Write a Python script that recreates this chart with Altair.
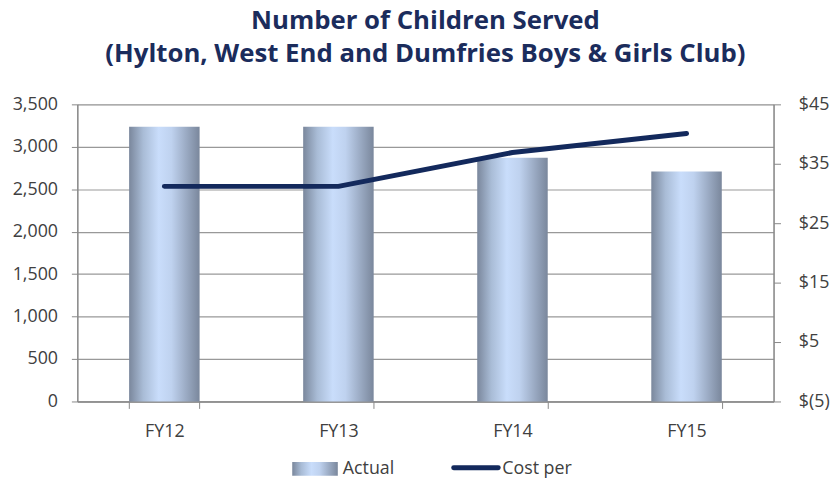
import altair as alt
import pandas as pd

years = ["FY12", "FY13", "FY14", "FY15"]
actual = [3235, 3235, 2872, 2709]
cost_per = [31.2, 31.2, 36.9, 40.1]
legend_labels = ["Actual", "Cost per"]

df = pd.DataFrame({"year": years, "actual": actual, "cost": cost_per})

FONT = "Open Sans"
GRAY_TXT = "#404040"
NAVY = "#13295c"

grad = alt.Gradient(
    gradient="linear",
    stops=[
        alt.GradientStop(color="#7a879c", offset=0),
        alt.GradientStop(color="#a9bcd6", offset=0.2),
        alt.GradientStop(color="#c9ddfb", offset=0.42),
        alt.GradientStop(color="#bfd2ef", offset=0.6),
        alt.GradientStop(color="#7a879c", offset=1),
    ],
    x1=0, x2=1, y1=0, y2=0,
)

xenc = alt.X(
    "year:N",
    sort=years,
    scale=alt.Scale(paddingInner=0.595, paddingOuter=0.2975),
    axis=alt.Axis(
        title=None, labelAngle=0, tickBand="extent", tickSize=7,
        tickColor="#888888", domainColor="#888888", domainWidth=1.5,
        labelPadding=14, labelFontSize=18, labelFont=FONT, labelColor=GRAY_TXT,
        grid=False,
    ),
)

base = alt.Chart(df)

bars = base.mark_bar(color=grad).encode(
    x=xenc,
    y=alt.Y(
        "actual:Q",
        scale=alt.Scale(domain=[0, 3500], nice=False),
        axis=alt.Axis(
            title=None, values=list(range(0, 3501, 500)), format=",d",
            grid=True, gridColor="#999999", gridWidth=1.2,
            tickSize=6, tickColor="#888888", domainColor="#888888", domainWidth=1.5,
            labelPadding=14, labelFontSize=18, labelFont=FONT, labelColor=GRAY_TXT,
        ),
    ),
)

line = base.mark_line(color=NAVY, strokeWidth=5, strokeCap="round", strokeJoin="round").encode(
    x=alt.X("year:N", sort=years),
    y=alt.Y(
        "cost:Q",
        scale=alt.Scale(domain=[-5, 45], nice=False),
        axis=alt.Axis(
            title=None, orient="right", values=[-5, 5, 15, 25, 35, 45],
            labelExpr="datum.value < 0 ? '$(' + abs(datum.value) + ')' : '$' + datum.value",
            grid=False, tickSize=7, tickColor="#888888", domainColor="#888888", domainWidth=1.5,
            labelPadding=18, labelFontSize=18, labelFont=FONT, labelColor=GRAY_TXT,
        ),
    ),
)

leg_bar = alt.Chart(pd.DataFrame({"label": [legend_labels[0]]})).mark_rect(color=grad).encode(
    x=alt.value(217), x2=alt.value(263), y=alt.value(361), y2=alt.value(375)
)
leg_bar_txt = alt.Chart(pd.DataFrame({"label": [legend_labels[0]]})).mark_text(
    align="left", baseline="alphabetic", fontSize=18, font=FONT, color=GRAY_TXT
).encode(x=alt.value(268), y=alt.value(373), text="label:N")
leg_line = alt.Chart(pd.DataFrame({"label": [legend_labels[1]]})).mark_rule(
    color=NAVY, strokeWidth=5, strokeCap="round"
).encode(x=alt.value(380), x2=alt.value(425), y=alt.value(367))
leg_line_txt = alt.Chart(pd.DataFrame({"label": [legend_labels[1]]})).mark_text(
    align="left", baseline="alphabetic", fontSize=18, font=FONT, color=GRAY_TXT
).encode(x=alt.value(429), y=alt.value(373), text="label:N")

chart = alt.layer(bars, line, leg_bar, leg_bar_txt, leg_line, leg_line_txt).resolve_scale(
    y="independent"
).properties(
    width=703,
    height=300,
    autosize=alt.AutoSizeParams(type="none"),
    padding={"left": 70, "top": 95, "right": 59, "bottom": 76},
    title=alt.TitleParams(
        text=["Number of Children Served", "(Hylton, West End and Dumfries Boys & Girls Club)"],
        font=FONT, fontSize=26, fontWeight="bold", color="#1b2c5c",
        lineHeight=33, anchor="middle", offset=29,
    ),
).configure_view(stroke=None).configure(background="white")

chart.save("out.html", embed_options={"renderer": "svg", "actions": False})
